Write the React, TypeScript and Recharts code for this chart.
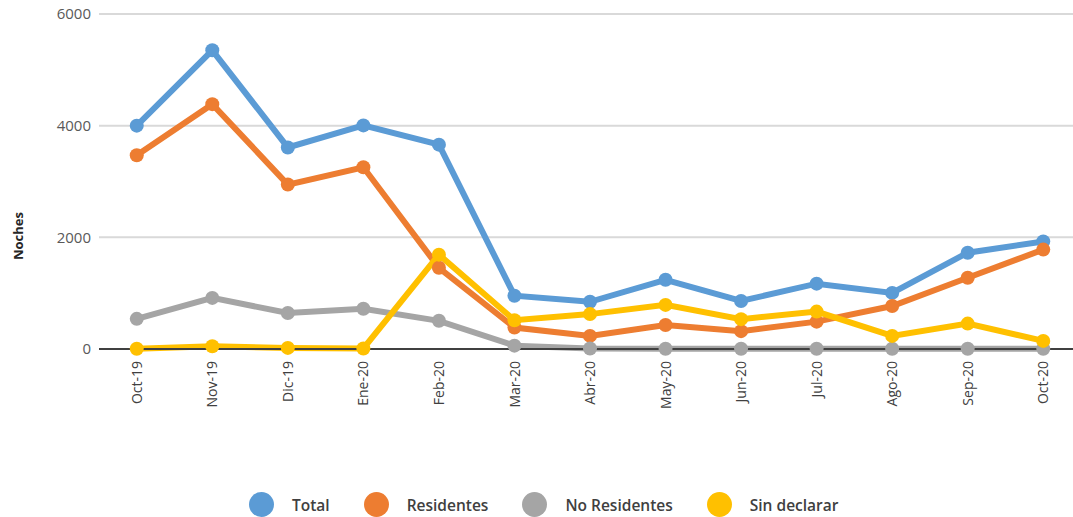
import {
  CartesianGrid,
  Legend,
  Line,
  LineChart,
  XAxis,
  YAxis,
} from "recharts";

const months = [
  "Oct-19", "Nov-19", "Dic-19", "Ene-20", "Feb-20", "Mar-20", "Abr-20",
  "May-20", "Jun-20", "Jul-20", "Ago-20", "Sep-20", "Oct-20",
];
const total = [4000, 5350, 3610, 4005, 3660, 955, 845, 1240, 860, 1170, 1005, 1725, 1925];
const residentes = [3470, 4385, 2945, 3255, 1455, 385, 235, 430, 320, 490, 770, 1275, 1780];
const noResidentes = [540, 915, 645, 720, 505, 60, 10, 5, 5, 5, 5, 5, 5];
const sinDeclarar = [5, 50, 20, 10, 1690, 515, 625, 790, 535, 670, 235, 455, 145];
const yTicks = [0, 2000, 4000, 6000];

const series = [
  { key: "total", name: "Total", color: "#5B9BD5" },
  { key: "residentes", name: "Residentes", color: "#ED7D31" },
  { key: "noResidentes", name: "No Residentes", color: "#A5A5A5" },
  { key: "sinDeclarar", name: "Sin declarar", color: "#FFC000" },
];

const data = months.map((m, i) => ({
  month: m,
  total: total[i],
  residentes: residentes[i],
  noResidentes: noResidentes[i],
  sinDeclarar: sinDeclarar[i],
}));

const FONT = "'Open Sans', sans-serif";

function MonthTick({ x, y, payload }: any) {
  return (
    <g transform={`translate(${x},${y})`}>
      <text
        transform="rotate(-90)"
        x={-4}
        y={0}
        dy="0.36em"
        textAnchor="end"
        fill="#404040"
        fontSize={14}
        fontFamily={FONT}
      >
        {payload.value}
      </text>
    </g>
  );
}

function LegendBox() {
  return (
    <div style={{ display: "flex", alignItems: "center", fontFamily: FONT }}>
      {series.map((s) => (
        <div key={s.key} style={{ display: "flex", alignItems: "center", marginRight: 34 }}>
          <span
            style={{
              width: 25,
              height: 25,
              borderRadius: "50%",
              background: s.color,
              display: "inline-block",
              marginRight: 18,
            }}
          />
          <span style={{ fontSize: 15.5, fontWeight: 600, color: "#404040" }}>{s.name}</span>
        </div>
      ))}
    </div>
  );
}

export default function App() {
  return (
    <div
      style={{
        position: "absolute",
        left: 0,
        top: 0,
        width: 1073,
        height: 517,
        overflow: "hidden",
        background: "#fff",
      }}
    >
      <LineChart
        width={1090}
        height={517}
        data={data}
        margin={{ top: 14, right: 9, left: 0, bottom: 0 }}
      >
        <CartesianGrid vertical={false} stroke="#d9d9d9" strokeWidth={2} />
        <XAxis
          dataKey="month"
          height={143}
          padding={{ left: 37.75, right: 37.75 }}
          axisLine={{ stroke: "#404040", strokeWidth: 2 }}
          tickLine={false}
          interval={0}
          tick={<MonthTick />}
        />
        <YAxis
          width={99}
          domain={[0, 6000]}
          ticks={yTicks}
          axisLine={false}
          tickLine={false}
          tick={{ fill: "#595959", fontSize: 15, fontFamily: FONT }}
          label={{
            content: () => (
              <text
                x={18}
                y={236}
                transform="rotate(-90, 18, 236)"
                textAnchor="middle"
                dominantBaseline="central"
                fontSize={13}
                fontWeight={700}
                fontFamily={FONT}
                fill="#262626"
              >
                Noches
              </text>
            ),
          }}
        />
        <Legend
          content={<LegendBox />}
          wrapperStyle={{ left: 249, top: 492, width: 800 }}
        />
        {series.map((s) => (
          <Line
            key={s.key}
            dataKey={s.key}
            name={s.name}
            type="linear"
            stroke={s.color}
            strokeWidth={6}
            dot={{ r: 7, fill: s.color, stroke: "none" }}
            activeDot={false}
            isAnimationActive={false}
          />
        ))}
      </LineChart>
    </div>
  );
}
